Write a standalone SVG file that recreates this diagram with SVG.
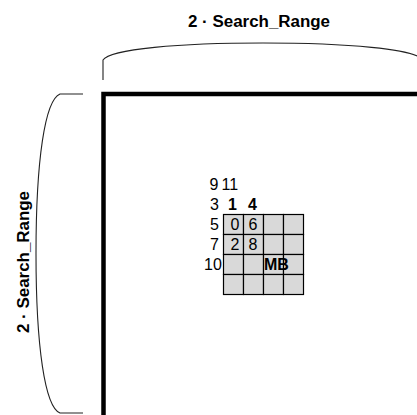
<svg xmlns="http://www.w3.org/2000/svg" width="417" height="415" viewBox="0 0 417 415">
<style>
.brace{fill:none;stroke:#222;stroke-width:1.1}
.lbl{font-family:"Liberation Sans",Arial,sans-serif;font-size:16px;font-weight:bold;fill:#000}
.num{font-family:"Liberation Sans",Arial,sans-serif;font-size:16px;fill:#000}
.b{font-weight:bold}
.cell{fill:#d9d9d9;stroke:#000;stroke-width:1.2}
</style>
<rect width="417" height="415" fill="#fff"/>
<g id="search-window">
<path d="M103.5,420 V94 H425" fill="none" stroke="#000" stroke-width="4.5"/>
</g>
<g id="top-brace">
<path class="brace" d="M103,80 V60 C110,49 180,43 263,43 C346,43 416,49 423,60 V80"/>
<text class="lbl" x="259" y="26.5" text-anchor="middle" textLength="142" lengthAdjust="spacingAndGlyphs">2 · Search_Range</text>
</g>
<g id="left-brace">
<path class="brace" d="M83,94 H60 C45,100 36,160 36,253.5 C36,347 45,407 60,413 H83"/>
<text class="lbl" transform="translate(28.5,262) rotate(-90)" text-anchor="middle" textLength="142" lengthAdjust="spacingAndGlyphs">2 · Search_Range</text>
</g>
<g id="grid">
<rect class="cell" x="223.5" y="214.5" width="20" height="20"/>
<rect class="cell" x="243.5" y="214.5" width="20" height="20"/>
<rect class="cell" x="263.5" y="214.5" width="20" height="20"/>
<rect class="cell" x="283.5" y="214.5" width="20" height="20"/>
<rect class="cell" x="223.5" y="234.5" width="20" height="20"/>
<rect class="cell" x="243.5" y="234.5" width="20" height="20"/>
<rect class="cell" x="263.5" y="234.5" width="20" height="20"/>
<rect class="cell" x="283.5" y="234.5" width="20" height="20"/>
<rect class="cell" x="223.5" y="254.5" width="20" height="20"/>
<rect class="cell" x="243.5" y="254.5" width="20" height="20"/>
<rect class="cell" x="263.5" y="254.5" width="20" height="20"/>
<rect class="cell" x="283.5" y="254.5" width="20" height="20"/>
<rect class="cell" x="223.5" y="274.5" width="20" height="20"/>
<rect class="cell" x="243.5" y="274.5" width="20" height="20"/>
<rect class="cell" x="263.5" y="274.5" width="20" height="20"/>
<rect class="cell" x="283.5" y="274.5" width="20" height="20"/>
</g>
<g id="labels">
<text class="num" x="209.5" y="190">9</text>
<text class="num" x="221.5" y="190">11</text>
<text class="num" x="210" y="210">3</text>
<text class="num b" x="228" y="210">1</text>
<text class="num b" x="248" y="210">4</text>
<text class="num" x="210" y="230">5</text>
<text class="num" x="230.5" y="230">0</text>
<text class="num" x="248.5" y="230">6</text>
<text class="num" x="210" y="250">7</text>
<text class="num" x="230.5" y="250">2</text>
<text class="num" x="248.5" y="250">8</text>
<text class="num" x="204" y="270">10</text>
<text class="num b" x="264" y="270">MB</text>
</g>
</svg>
